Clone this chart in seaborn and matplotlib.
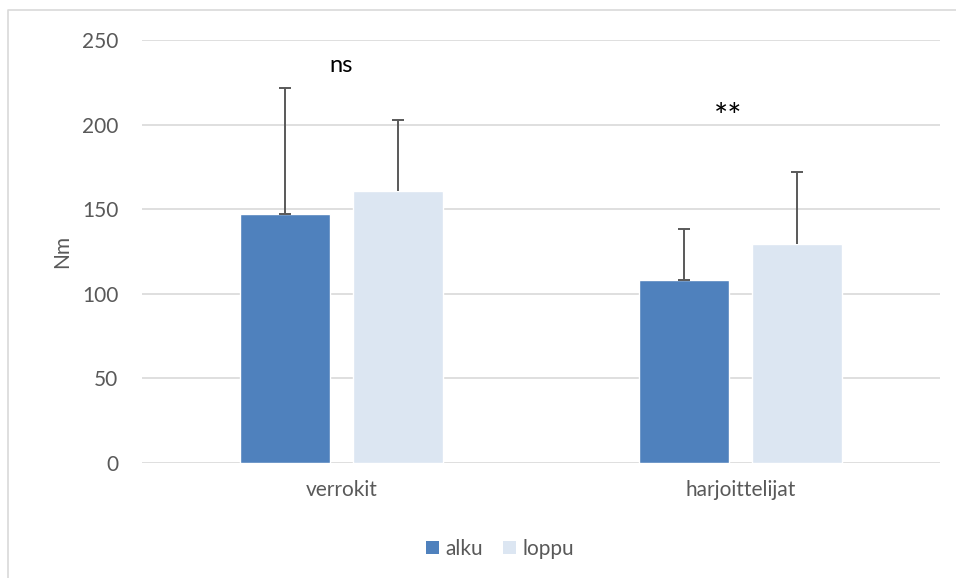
import matplotlib
matplotlib.use("Agg")
import matplotlib.pyplot as plt
from matplotlib.lines import Line2D
from matplotlib.patches import Patch
import seaborn as sns
import pandas as pd

# Group means and standard deviations (Nm)
groups = ["verrokit", "harjoittelijat"]
phases = ["alku", "loppu"]
alku_mean = [146.9, 108.0]
loppu_mean = [160.8, 129.4]
alku_sd = [74.5, 30.5]
loppu_sd = [41.9, 42.8]
significance = ["ns", "**"]
yticks = [0, 50, 100, 150, 200, 250]

colors = {"alku": "#4F81BD", "loppu": "#DCE6F2"}
text_color = "#595959"

df = pd.DataFrame({
    "ryhmä": groups * 2,
    "vaihe": ["alku"] * len(groups) + ["loppu"] * len(groups),
    "Nm": alku_mean + loppu_mean,
    "sd": alku_sd + loppu_sd,
})

sns.set_theme(style="white")
plt.rcParams["font.family"] = ["Lato", "DejaVu Sans"]

fig = plt.figure(figsize=(9.56, 5.78), dpi=100)
ax = fig.add_axes([0.1485, 0.199, 0.8348, 0.7318])

sns.barplot(data=df, x="ryhmä", y="Nm", hue="vaihe", order=groups,
            hue_order=phases, palette=colors, width=0.566, gap=0.2,
            saturation=1, errorbar=None, ax=ax, legend=False, zorder=3)

# Upward error bars from each bar top
err_col = "#595959"
cap_w = 0.016
for i, phase in enumerate(phases):
    container = ax.containers[i]
    sub = df[df["vaihe"] == phase].set_index("ryhmä").loc[groups]
    for bar, m, s in zip(container, sub["Nm"], sub["sd"]):
        xc = bar.get_x() + bar.get_width() / 2
        ax.vlines(xc, m, m + s, color=err_col, lw=1.4, zorder=4)
        ax.hlines(m + s, xc - cap_w, xc + cap_w, color=err_col, lw=1.4, zorder=4)
        if phase == "alku":
            ax.hlines(m, xc - cap_w, xc + cap_w, color=err_col, lw=1.4, zorder=4)

# Significance markers
sig_y = [235, 204]
sig_dx = [0.0, -0.03]
sig_size = [17, 24]
for i, (lab, yy) in enumerate(zip(significance, sig_y)):
    ax.text(i + sig_dx[i], yy, lab, ha="center", va="center",
            fontsize=sig_size[i], color="black")

ax.set_ylim(0, 250)
ax.set_xlim(-0.5, 1.5)
ax.set_yticks(yticks)
ax.set_yticklabels([str(t) for t in yticks])
ax.grid(axis="y", color="#d9d9d9", lw=1.2, zorder=0)
ax.grid(axis="x", visible=False)
for sp in ax.spines.values():
    sp.set_visible(False)
ax.tick_params(axis="both", length=0, labelsize=15, colors=text_color)
ax.tick_params(axis="y", pad=17)
ax.tick_params(axis="x", pad=12)
ax.set_xlabel("")
ax.set_ylabel("Nm", fontsize=15, color=text_color, labelpad=7)

handles = [Patch(facecolor=colors[p], edgecolor="none") for p in phases]
fig.legend(handles, phases, loc="center", bbox_to_anchor=(0.523, 0.051),
           ncol=2, frameon=False, fontsize=15, handlelength=0.6,
           handleheight=0.6, handletextpad=0.3, columnspacing=1.0,
           labelcolor=text_color)

# Chart-area frame (left and top edges)
fig.add_artist(Line2D([8 / 956, 8 / 956, 1.0], [0.0, 1 - 10 / 578, 1 - 10 / 578],
                      transform=fig.transFigure, color="#d9d9d9", lw=1.2))

fig.savefig("out.png", dpi=100, facecolor="white")
